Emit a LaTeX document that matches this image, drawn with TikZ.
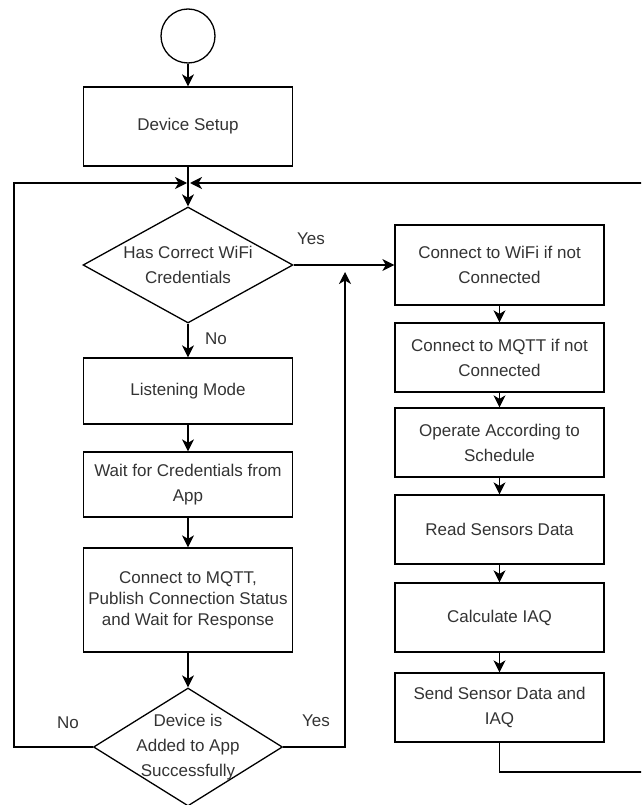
\documentclass[tikz,border=0pt]{standalone}
\usepackage{fontspec}
\setmainfont{Liberation Sans}
\usetikzlibrary{shapes.geometric,arrows.meta}

\begin{document}
\begin{tikzpicture}[x=1pt,y=-1pt,
  box/.style={draw,line width=1.3pt,minimum width=209pt,inner sep=2pt,align=center,
    text=black!80,font=\fontsize{17}{25}\selectfont},
  decision/.style={draw,diamond,line width=1.3pt,inner sep=0pt},
  dtext/.style={align=center,text=black!80,font=\fontsize{17}{25}\selectfont},
  flow/.style={line width=1.3pt,-{Stealth[length=12pt,width=12pt,inset=3.5pt]}},
  lbl/.style={text=black!80,font=\fontsize{17}{20}\selectfont}]
\useasboundingbox (0,0) rectangle (641,805);
\clip (0,0) rectangle (641,805);

% Start and setup
\node[draw,circle,line width=1.3pt,minimum size=54pt] (start) at (188,36) {};
\node[box,minimum height=79pt] (setup) at (188,126.5) {Device Setup};
\coordinate (merge) at (188,183);

% Credentials check
\node[decision,minimum width=210pt,minimum height=116pt,
  label={[dtext]center:Has Correct WiFi\\Credentials}] (cred) at (188,265) {};

% Left column: provisioning
\node[box,minimum height=66pt] (listen) at (188,391) {Listening Mode};
\node[box,minimum height=65pt] (wait) at (188,484.5) {Wait for Credentials from\\App};
\node[box,minimum height=104pt,font=\fontsize{17}{21}\selectfont] (publish) at (188,600)
  {Connect to MQTT,\\Publish Connection Status\\and Wait for Response};
\node[decision,minimum width=189pt,minimum height=118pt,
  label={[dtext]center:Device is\\Added to App\\Successfully}] (added) at (188,747) {};

% Right column: normal operation
\node[box,minimum height=80pt] (wifi) at (499.5,265) {Connect to WiFi if not\\Connected};
\node[box,minimum height=69pt] (mqtt) at (499.5,357.5) {Connect to MQTT if not\\Connected};
\node[box,minimum height=69pt] (operate) at (499.5,442.5) {Operate According to\\Schedule};
\node[box,minimum height=69pt] (read) at (499.5,529.5) {Read Sensors Data};
\node[box,minimum height=69pt] (calc) at (499.5,617.5) {Calculate IAQ};
\node[box,minimum height=69pt] (send) at (499.5,707.5) {Send Sensor Data and\\IAQ};

% Branch labels
\node[lbl] (yescred) at (311,239) {Yes};
\node[lbl] (nocred) at (216,339) {No};
\node[lbl] (yesadded) at (316,721) {Yes};
\node[lbl] (noadded) at (68,723) {No};

% Main flow
\draw[flow] (start) -- (setup);
\draw[flow] (setup) -- (cred);
\draw[flow] (cred) -- (wifi);
\draw[flow] (cred) -- (listen);
\draw[flow] (listen) -- (wait);
\draw[flow] (wait) -- (publish);
\draw[flow] (publish) -- (added);
\draw[flow] (wifi) -- (mqtt);
\draw[flow] (mqtt) -- (operate);
\draw[flow] (operate) -- (read);
\draw[flow] (read) -- (calc);
\draw[flow] (calc) -- (send);

% Loops back
\coordinate (yestip) at (345,272);
\coordinate (leftturn) at (14,747);
\coordinate (rightturn) at (660,772);
\draw[flow] (added.east) -| (yestip);
\draw[flow] (added.west) -- (leftturn) |- ([xshift=-1pt]merge);
\draw[flow] (send.south) |- (rightturn) |- ([xshift=2pt]merge);
\end{tikzpicture}
\end{document}
